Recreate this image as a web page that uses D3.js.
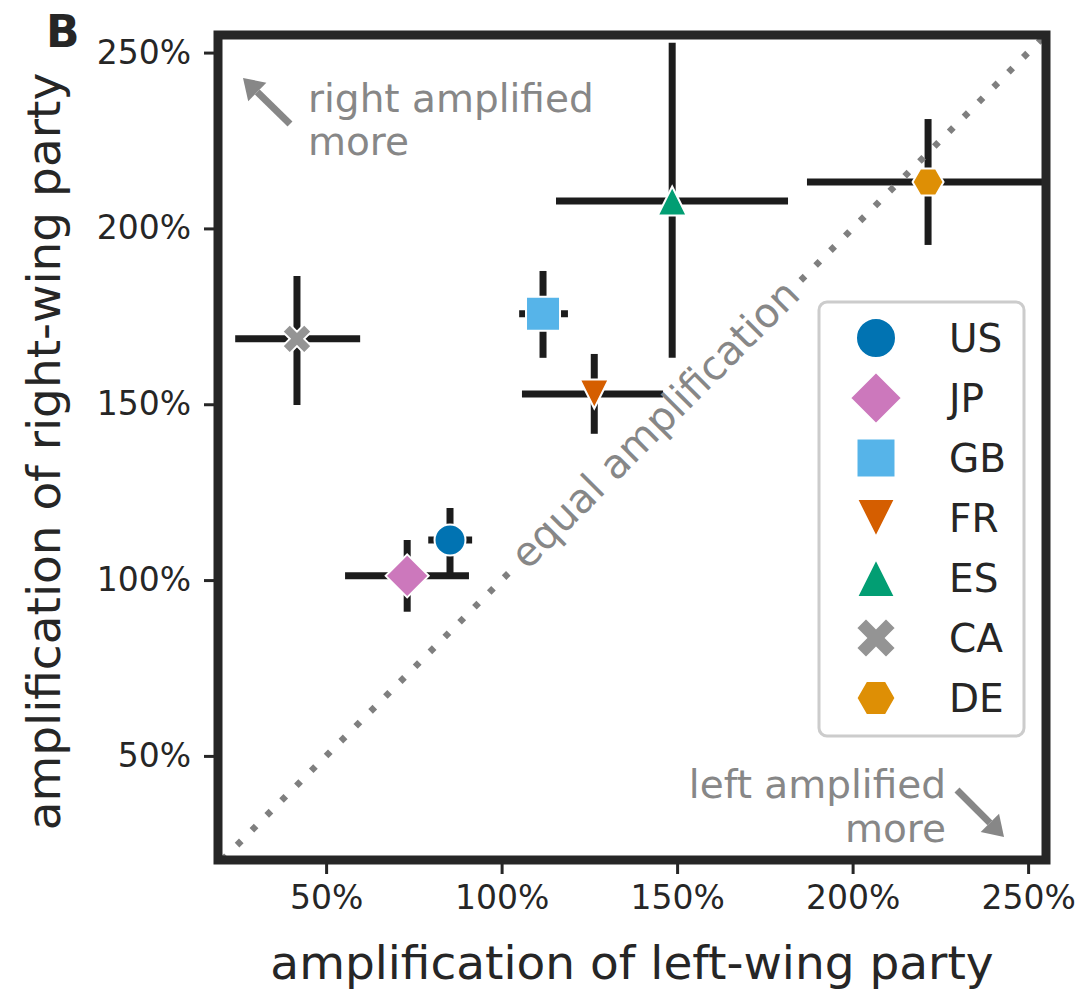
<!DOCTYPE html>
<html>
<head>
<meta charset="utf-8">
<script src="https://cdn.jsdelivr.net/npm/d3@7"></script>
<style>
  html, body { margin: 0; padding: 0; background: #ffffff; }
  svg { display: block; }
  text { font-family: "DejaVu Sans", sans-serif; }
</style>
</head>
<body>
<svg id="chart" width="1081" height="994"></svg>
<script>
// ---- data ----
const countries = ["US", "JP", "GB", "FR", "ES", "CA", "DE"];
const leftAmp   = [85.3, 73.1, 111.8, 126.4, 148.6, 41.7, 221.5];
const rightAmp  = [111.4, 101.2, 175.7, 152.9, 207.8, 168.6, 213.2];
const leftLow   = [79.1, 55.4, 105.0, 105.8, 115.5, 24.1, 187.0];
const leftHigh  = [91.6, 90.7, 118.9, 146.0, 181.6, 59.7, 258.0];
const rightLow  = [101.0, 91.0, 163.2, 141.6, 163.2, 149.8, 195.3];
const rightHigh = [120.5, 111.4, 187.9, 164.3, 252.8, 186.5, 231.1];
const colors    = ["#0173b2", "#cc78bc", "#56b4e9", "#d55e00", "#029e73", "#949494", "#de8f05"];
const markerNames = ["circle", "diamond", "square", "triDown", "triUp", "x", "hexagon"];
const tickValues = [50, 100, 150, 200, 250];
const xDomain = [19.2, 255.1];
const yDomain = [20.4, 255.0];

// ---- custom symbol types (size = half-width in px) ----
const symbolTypes = {
  circle: { draw(c, r) { c.moveTo(r, 0); c.arc(0, 0, r, 0, 2 * Math.PI); } },
  diamond: { draw(c, r) { c.moveTo(0, -r); c.lineTo(r, 0); c.lineTo(0, r); c.lineTo(-r, 0); c.closePath(); } },
  square: { draw(c, r) { c.rect(-r, -r, 2 * r, 2 * r); } },
  triDown: { draw(c, r) { c.moveTo(-r, -r); c.lineTo(r, -r); c.lineTo(0, r); c.closePath(); } },
  triUp: { draw(c, r) { c.moveTo(0, -r); c.lineTo(r, r); c.lineTo(-r, r); c.closePath(); } },
  hexagon: { draw(c, r) {
    for (let k = 0; k < 6; k++) {
      const a = k * Math.PI / 3;
      const px = r * Math.cos(a), py = r * Math.sin(a);
      if (k === 0) c.moveTo(px, py); else c.lineTo(px, py);
    }
    c.closePath();
  } },
  x: { draw(c, r) {
    const L = r / 0.943, a = L / 3;
    const pts = [[a, -a], [a, -L], [-a, -L], [-a, -a], [-L, -a], [-L, a], [-a, a], [-a, L], [a, L], [a, a], [L, a], [L, -a]];
    const cs = Math.SQRT1_2;
    pts.forEach((p, i) => {
      const px = (p[0] - p[1]) * cs, py = (p[0] + p[1]) * cs;
      if (i === 0) c.moveTo(px, py); else c.lineTo(px, py);
    });
    c.closePath();
  } }
};
const plotSize   = { circle: 15.5, diamond: 21.5, square: 17, triDown: 14.5, triUp: 14.5, x: 14.5, hexagon: 15.5 };
const legendSize = { circle: 20, diamond: 26, square: 19.5, triDown: 19, triUp: 19, x: 20, hexagon: 19.5 };

const svg = d3.select("#chart");
const L = 218, R = 1046, T = 35, B = 860;
const x = d3.scaleLinear().domain(xDomain).range([L, R]);
const y = d3.scaleLinear().domain(yDomain).range([B, T]);

const ink = "#262626";
const grey = "#878787";

svg.append("defs").append("clipPath").attr("id", "plotclip")
  .append("rect").attr("x", L).attr("y", T).attr("width", R - L).attr("height", B - T);

const plot = svg.append("g").attr("clip-path", "url(#plotclip)");

const data = countries.map((c, i) => ({
  c, lx: leftAmp[i], ry: rightAmp[i], xl: leftLow[i], xh: leftHigh[i],
  yl: rightLow[i], yh: rightHigh[i], color: colors[i], m: markerNames[i]
}));

// error bars
const errCol = "#1c1c1c";
plot.selectAll("line.xerr").data(data).join("line")
  .attr("x1", d => x(d.xl)).attr("x2", d => x(d.xh))
  .attr("y1", d => y(d.ry)).attr("y2", d => y(d.ry))
  .attr("stroke", errCol).attr("stroke-width", 7);
plot.selectAll("line.yerr").data(data).join("line")
  .attr("x1", d => x(d.lx)).attr("x2", d => x(d.lx))
  .attr("y1", d => y(d.yl)).attr("y2", d => y(d.yh))
  .attr("stroke", errCol).attr("stroke-width", 7);

// diagonal
const d0 = Math.max(xDomain[0], yDomain[0]), d1 = Math.min(xDomain[1], yDomain[1]);
plot.append("line")
  .attr("x1", x(d0)).attr("y1", y(d0)).attr("x2", x(d1)).attr("y2", y(d1))
  .attr("stroke", "#7f7f7f").attr("stroke-width", 6.5)
  .attr("stroke-dasharray", "6 15");

// equal amplification label
const eqV = 144;
const eqG = plot.append("g").attr("transform", `translate(${x(eqV)},${y(eqV)}) rotate(-45)`);
const eqBg = eqG.append("rect").attr("fill", "#ffffff");
const eqT = eqG.append("text").attr("text-anchor", "middle").attr("dy", "0.3em")
  .attr("font-size", 40.5).attr("fill", grey).text("equal amplification");
const eqLen = eqT.node().getComputedTextLength();
eqBg.attr("x", -eqLen / 2 - 10).attr("width", eqLen + 20).attr("y", -8).attr("height", 16);

// markers
svg.selectAll("path.mk").data(data).join("path")
  .attr("transform", d => `translate(${x(d.lx)},${y(d.ry)})`)
  .attr("d", d => d3.symbol().type(symbolTypes[d.m]).size(plotSize[d.m])())
  .attr("fill", d => d.color).attr("stroke", "#ffffff").attr("stroke-width", 2);

// frame
svg.append("rect").attr("x", L).attr("y", T).attr("width", R - L).attr("height", B - T)
  .attr("fill", "none").attr("stroke", ink).attr("stroke-width", 9);

// axes
const xAxis = d3.axisBottom(x).tickValues(tickValues).tickFormat(d => d + "%").tickSize(10).tickPadding(12);
const yAxis = d3.axisLeft(y).tickValues(tickValues).tickFormat(d => d + "%").tickSize(10).tickPadding(13);
const gx = svg.append("g").attr("transform", `translate(0,${B + 4})`).call(xAxis);
const gy = svg.append("g").attr("transform", `translate(${L - 4},0)`).call(yAxis);
[gx, gy].forEach(g => {
  g.select(".domain").remove();
  g.selectAll(".tick line").attr("stroke", ink).attr("stroke-width", 3);
  g.selectAll(".tick text").attr("fill", ink).attr("font-size", 33)
    .attr("font-family", "DejaVu Sans, sans-serif");
});

// axis titles
svg.append("text").attr("x", (L + R) / 2).attr("y", 979).attr("text-anchor", "middle")
  .attr("font-size", 47).attr("fill", ink).text("amplification of left-wing party");
svg.append("text").attr("transform", `translate(60,${(T + B) / 2 + 4}) rotate(-90)`)
  .attr("text-anchor", "middle").attr("font-size", 47).attr("fill", ink)
  .text("amplification of right-wing party");

// panel letter
svg.append("text").attr("x", 46).attr("y", 47).attr("font-size", 44).attr("font-weight", "bold")
  .attr("fill", ink).text("B");

// annotations
function arrow(x0, y0, x1, y1) {
  const ang = Math.atan2(y1 - y0, x1 - x0);
  const hl = 20, hw = 13;
  const bx = x1 - hl * Math.cos(ang), by = y1 - hl * Math.sin(ang);
  svg.append("line").attr("x1", x0).attr("y1", y0).attr("x2", bx).attr("y2", by)
    .attr("stroke", grey).attr("stroke-width", 7);
  const px = -Math.sin(ang), py = Math.cos(ang);
  svg.append("path").attr("d", `M${x1},${y1}L${bx + hw * px},${by + hw * py}L${bx - hw * px},${by - hw * py}Z`)
    .attr("fill", grey);
}
arrow(290, 124, 243, 78);
const ra = svg.append("text").attr("x", 308).attr("y", 112).attr("font-size", 39).attr("fill", grey);
ra.append("tspan").attr("x", 308).text("right amplified");
ra.append("tspan").attr("x", 308).attr("dy", 43).text("more");

arrow(957, 790, 1004, 837);
const la = svg.append("text").attr("x", 946).attr("y", 798).attr("font-size", 39).attr("fill", grey)
  .attr("text-anchor", "end");
la.append("tspan").attr("x", 946).text("left amplified");
la.append("tspan").attr("x", 946).attr("dy", 44).text("more");

// legend
const lg = svg.append("g");
lg.append("rect").attr("x", 819).attr("y", 302).attr("width", 205).attr("height", 434)
  .attr("rx", 8).attr("fill", "#ffffff").attr("stroke", "#cccccc").attr("stroke-width", 3);
const legY = d3.scalePoint().domain(countries).range([338, 698]);
const items = lg.selectAll("g.item").data(data).join("g")
  .attr("transform", d => `translate(0,${legY(d.c)})`);
items.append("path").attr("transform", "translate(876,0)")
  .attr("d", d => d3.symbol().type(symbolTypes[d.m]).size(legendSize[d.m])())
  .attr("fill", d => d.color).attr("stroke", "#ffffff").attr("stroke-width", 2);
items.append("text").attr("x", 949).attr("dy", "0.36em").attr("font-size", 39)
  .attr("fill", ink).text(d => d.c);
</script>
</body>
</html>
